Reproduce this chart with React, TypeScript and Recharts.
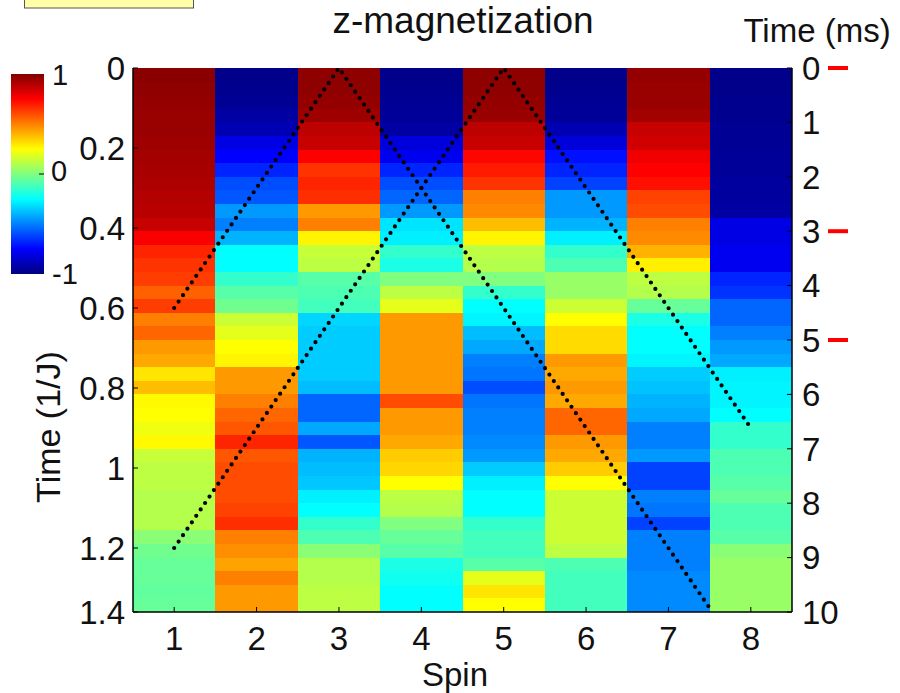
import { ComposedChart, XAxis, YAxis, Line, ReferenceArea } from 'recharts'

// spin index (columns) and time samples (rows, in ms)
const spins = [1, 2, 3, 4, 5, 6, 7, 8]
const timesMs = [
  0, 0.25, 0.5, 0.75, 1, 1.25, 1.5, 1.75, 2, 2.25,
  2.5, 2.75, 3, 3.25, 3.5, 3.75, 4, 4.25, 4.5, 4.75,
  5, 5.25, 5.5, 5.75, 6, 6.25, 6.5, 6.75, 7, 7.25,
  7.5, 7.75, 8, 8.25, 8.5, 8.75, 9, 9.25, 9.5, 9.75,
]
const rowMs = 0.25

// z-magnetization per spin, one value per time sample
const magSpin1 = [
  0.98, 0.97, 0.96, 0.95, 0.95, 0.94, 0.93, 0.92, 0.91, 0.9,
  0.89, 0.86, 0.76, 0.68, 0.65, 0.63, 0.56, 0.63, 0.5, 0.55,
  0.45, 0.42, 0.3, 0.38, 0.26, 0.25, 0.22, 0.26, 0.14, 0.12,
  0.12, 0.1, 0.1, 0.1, 0.02, -0.03, -0.05, -0.05, -0.06, -0.05,
]
const magSpin2 = [
  -0.98, -0.97, -0.96, -0.93, -0.9, -0.8, -0.75, -0.68, -0.6, -0.58,
  -0.45, -0.5, -0.4, -0.25, -0.25, -0.15, -0.08, -0.03, 0.15, 0.2,
  0.25, 0.27, 0.45, 0.45, 0.5, 0.55, 0.58, 0.68, 0.58, 0.6,
  0.6, 0.6, 0.62, 0.66, 0.5, 0.47, 0.43, 0.5, 0.45, 0.45,
]
const magSpin3 = [
  0.97, 0.97, 0.96, 0.94, 0.88, 0.86, 0.75, 0.65, 0.68, 0.66,
  0.45, 0.5, 0.27, 0.14, 0.12, -0.08, -0.1, -0.12, -0.33, -0.35,
  -0.35, -0.35, -0.35, -0.38, -0.55, -0.55, -0.42, -0.58, -0.4, -0.38,
  -0.36, -0.28, -0.25, -0.15, -0.1, 0.02, 0.1, 0.1, 0.12, 0.12,
]
const magSpin4 = [
  -0.98, -0.97, -0.96, -0.95, -0.93, -0.82, -0.78, -0.68, -0.6, -0.55,
  -0.45, -0.3, -0.28, -0.15, -0.2, 0.0, 0.12, 0.2, 0.45, 0.45,
  0.45, 0.45, 0.45, 0.45, 0.6, 0.45, 0.45, 0.42, 0.35, 0.33,
  0.25, 0.12, 0.1, 0.0, -0.05, -0.08, -0.2, -0.22, -0.25, -0.25,
]
const magSpin5 = [
  0.97, 0.97, 0.96, 0.95, 0.88, 0.86, 0.74, 0.7, 0.65, 0.5,
  0.48, 0.38, 0.27, 0.12, 0.1, 0.0, -0.15, -0.25, -0.27, -0.38,
  -0.42, -0.5, -0.52, -0.6, -0.52, -0.5, -0.5, -0.48, -0.45, -0.35,
  -0.28, -0.25, -0.25, -0.15, -0.12, -0.12, -0.08, 0.2, 0.3, 0.25,
]
const magSpin6 = [
  -0.98, -0.97, -0.96, -0.95, -0.9, -0.82, -0.72, -0.68, -0.62, -0.45,
  -0.45, -0.4, -0.28, -0.15, -0.1, 0.05, 0.05, 0.15, 0.25, 0.32,
  0.32, 0.45, 0.42, 0.45, 0.42, 0.55, 0.55, 0.45, 0.42, 0.35,
  0.25, 0.15, 0.15, 0.15, 0.15, 0.12, -0.1, -0.12, -0.12, -0.12,
]
const magSpin7 = [
  0.96, 0.95, 0.95, 0.93, 0.86, 0.84, 0.78, 0.75, 0.72, 0.62,
  0.6, 0.5, 0.48, 0.4, 0.28, 0.12, 0.1, -0.05, -0.2, -0.25,
  -0.25, -0.27, -0.35, -0.37, -0.4, -0.42, -0.5, -0.5, -0.45, -0.62,
  -0.62, -0.5, -0.52, -0.62, -0.5, -0.5, -0.5, -0.48, -0.48, -0.48,
]
const magSpin8 = [
  -0.98, -0.98, -0.97, -0.97, -0.96, -0.96, -0.95, -0.95, -0.94, -0.94,
  -0.93, -0.8, -0.8, -0.78, -0.78, -0.68, -0.65, -0.55, -0.55, -0.5,
  -0.45, -0.42, -0.28, -0.27, -0.27, -0.25, -0.15, -0.15, -0.1, -0.1,
  -0.08, -0.05, -0.1, -0.1, -0.08, 0.02, 0.05, 0.05, 0.05, 0.05,
]
const magnetization = [magSpin1, magSpin2, magSpin3, magSpin4, magSpin5, magSpin6, magSpin7, magSpin8]

// light-cone guide lines, time in 1/J
const coneA = [
  { spin: 1, t: 0.6 },
  { spin: 3, t: 0 },
  { spin: 7.5, t: 1.35 },
]
const coneB = [
  { spin: 1, t: 1.2 },
  { spin: 5, t: 0 },
  { spin: 8, t: 0.9 },
]

const jTicks = [0, 0.2, 0.4, 0.6, 0.8, 1, 1.2, 1.36]
const msTicks = [0, 1, 2, 3, 4, 5, 6, 7, 8, 9, 10]
const markedMs = [0, 3, 5]

const FONT = '"Liberation Sans", Arial, sans-serif'
const INK = '#111'

// MATLAB jet colormap, v in [-1, 1]
function jet(v: number) {
  const t = (v + 1) / 2
  const c = (x: number) => Math.round(255 * Math.max(0, Math.min(1, x)))
  const r = c(1.5 - Math.abs(4 * t - 3))
  const g = c(1.5 - Math.abs(4 * t - 2))
  const b = c(1.5 - Math.abs(4 * t - 1))
  return `rgb(${r},${g},${b})`
}

function SpinTick(props: any) {
  const { x, y, payload } = props
  return (
    <g>
      <line x1={x} x2={x} y1={y - 15} y2={y - 20} stroke="#000" strokeWidth={1} />
      <text x={x} y={y} dy="0.71em" textAnchor="middle" fontSize={33} fill={INK}>
        {payload.value}
      </text>
    </g>
  )
}

function JTick(props: any) {
  const { x, y, payload } = props
  const label = String(Math.round(payload.value * 10) / 10)
  return (
    <g>
      <line x1={x + 8} x2={x + 13} y1={y} y2={y} stroke="#000" strokeWidth={1} />
      <text x={x} y={y} dy="0.355em" textAnchor="end" fontSize={33} fill={INK}>
        {label}
      </text>
    </g>
  )
}

function MsTick(props: any) {
  const { x, y, payload } = props
  const marked = markedMs.includes(payload.value)
  return (
    <g>
      <line x1={x - 10} x2={x - 15} y1={y} y2={y} stroke="#000" strokeWidth={1} />
      <text x={x} y={y} dy="0.355em" textAnchor="start" fontSize={33} fill={INK}>
        {payload.value}
      </text>
      {marked && <line x1={x + 26} x2={x + 46} y1={y} y2={y} stroke="#f00" strokeWidth={4} />}
    </g>
  )
}

const barStops = [1, 0.75, 0.5, 0.25, 0, -0.25, -0.5, -0.75, -1]

export default function App() {
  return (
    <div style={{ position: 'absolute', left: 0, top: 0, width: 900, height: 693, background: '#fff', fontFamily: FONT }}>
      <ComposedChart width={900} height={693} margin={{ top: 68, right: 48, bottom: 41, left: 73 }}>
        {magnetization.map((col, si) =>
          col.map((v, ri) => (
            <ReferenceArea
              key={`${si}-${ri}`}
              yAxisId="ms"
              x1={spins[si] - 0.5}
              x2={spins[si] + 0.5}
              y1={timesMs[ri]}
              y2={timesMs[ri] + rowMs}
              fill={jet(v)}
              fillOpacity={1}
              stroke="none"
              shapeRendering="crispEdges"
              ifOverflow="hidden"
            />
          ))
        )}
        <XAxis
          dataKey="spin"
          type="number"
          domain={[0.5, 8.5]}
          ticks={spins}
          allowDataOverflow
          height={40}
          tickSize={0}
          tickLine={false}
          tickMargin={15}
          axisLine={{ stroke: '#000', strokeWidth: 1.5 }}
          tick={<SpinTick />}
        />
        <YAxis
          yAxisId="j"
          orientation="left"
          type="number"
          domain={[0, 1.36]}
          reversed
          ticks={jTicks}
          allowDataOverflow
          width={60}
          tickSize={0}
          tickLine={false}
          tickMargin={8}
          axisLine={{ stroke: '#000', strokeWidth: 1.5 }}
          tick={<JTick />}
        />
        <YAxis
          yAxisId="ms"
          orientation="right"
          type="number"
          domain={[0, 10]}
          reversed
          ticks={msTicks}
          allowDataOverflow
          width={60}
          tickSize={0}
          tickLine={false}
          tickMargin={10}
          axisLine={{ stroke: '#000', strokeWidth: 1.5 }}
          tick={<MsTick />}
        />
        <Line
          yAxisId="j"
          data={coneA}
          dataKey="t"
          type="linear"
          stroke="#000"
          strokeWidth={4.2}
          strokeDasharray="0 7.8"
          strokeLinecap="round"
          dot={false}
          activeDot={false}
          isAnimationActive={false}
        />
        <Line
          yAxisId="j"
          data={coneB}
          dataKey="t"
          type="linear"
          stroke="#000"
          strokeWidth={4.2}
          strokeDasharray="0 7.8"
          strokeLinecap="round"
          dot={false}
          activeDot={false}
          isAnimationActive={false}
        />
      </ComposedChart>
      <svg
        width={900}
        height={693}
        style={{ position: 'absolute', left: 0, top: 0, pointerEvents: 'none' }}
      >
        <defs>
          <linearGradient id="jetbar" x1="0" y1="0" x2="0" y2="1">
            {barStops.map((v, i) => (
              <stop key={i} offset={`${(i / (barStops.length - 1)) * 100}%`} stopColor={jet(v)} />
            ))}
          </linearGradient>
        </defs>
        <rect x={24.5} y={-4} width={169} height={12} fill="#ffffa8" stroke="#555" strokeWidth={1} />
        <rect x={11} y={74} width={33} height={200} fill="url(#jetbar)" />
        <line x1={39} x2={44} y1={174} y2={174} stroke="#000" strokeWidth={1} />
        <text x={52} y={85} fontSize={29} fill={INK}>1</text>
        <text x={51} y={181} fontSize={29} fill={INK}>0</text>
        <text x={52} y={284} fontSize={29} fill={INK}>-1</text>
        <text x={463} y={33} fontSize={37} textAnchor="middle" fill={INK}>z-magnetization</text>
        <text x={817} y={42} fontSize={33} textAnchor="middle" fill={INK}>Time (ms)</text>
        <text x={455} y={686} fontSize={33} textAnchor="middle" fill={INK}>Spin</text>
        <text x={60} y={427} fontSize={34} textAnchor="middle" fill={INK} transform="rotate(-90 60 427)">
          Time (1/J)
        </text>
      </svg>
    </div>
  )
}
